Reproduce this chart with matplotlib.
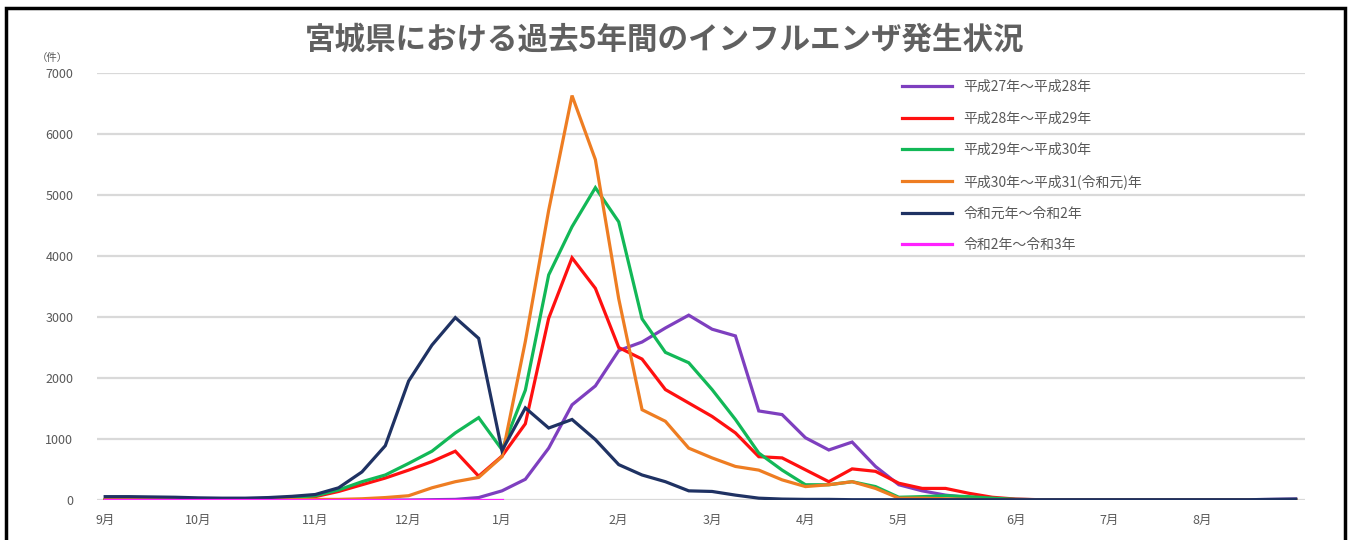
import numpy as np
import matplotlib
matplotlib.use("Agg")
import matplotlib.pyplot as plt
from matplotlib.patches import Rectangle

plt.rcParams['font.family'] = ['Noto Sans CJK JP', 'DejaVu Sans']

# 週ごとの報告数（9月第1週から52週）
h27 = [0, 0, 0, 0, 0, 0, 0, 0, 0, 0, 0, 0, 0, 0, 5, 10,
       40, 150, 340, 850, 1560, 1870, 2450, 2590, 2820, 3030, 2800, 2690, 1460, 1400, 1020, 820,
       950, 550, 250, 150, 80, 40, 20, 10, 5, 5, 5, 5, 5, 5, 5, 5, 5, 5, 10, 15]
h28 = [5, 5, 5, 5, 5, 5, 10, 15, 30, 55, 140, 250, 360, 490, 630, 800,
       390, 720, 1250, 2980, 3970, 3470, 2500, 2310, 1810, 1590, 1370, 1100, 710, 690, 495, 300,
       510, 470, 275, 190, 190, 110, 45, 15, 5, 5, 5, 5, 5, 5, 5, 5, 5, 5, 5, 5]
h29 = [5, 5, 5, 5, 5, 5, 10, 20, 40, 70, 165, 300, 410, 600, 800, 1100,
       1350, 825, 1800, 3690, 4480, 5120, 4560, 2970, 2420, 2250, 1810, 1320, 770, 490, 250, 250,
       300, 220, 45, 55, 70, 55, 30, 10, 5, 5, 5, 5, 5, 5, 5, 5, 5, 5, 5, 5]
h30 = [5, 5, 5, 5, 5, 5, 5, 5, 5, 10, 10, 20, 40, 70, 200, 300,
       370, 710, 2600, 4750, 6630, 5580, 3300, 1480, 1290, 850, 690, 550, 490, 330, 220, 250,
       300, 190, 30, 30, 20, 10, 5, 5, 5, 5, 5, 5, 5, 5, 5, 5, 5, 5, 5, 5]
r1 = [55, 55, 50, 45, 35, 30, 30, 40, 60, 90, 200, 460, 890, 1950, 2540, 2990,
      2650, 810, 1510, 1180, 1320, 990, 580, 410, 300, 150, 140, 80, 30, 15, 10, 10,
      5, 5, 5, 5, 5, 5, 5, 5, 5, 5, 5, 5, 5, 5, 5, 5, 5, 5, 10, 15]
r2 = [2, 2, 2, 2, 2, 2, 2, 2, 2, 2, 2, 2, 2, 2, 2, 2, 2, 2]

series = [h27, h28, h29, h30, r1, r2]
labels = ["平成27年～平成28年", "平成28年～平成29年", "平成29年～平成30年",
          "平成30年～平成31(令和元)年", "令和元年～令和2年", "令和2年～令和3年"]
colors = ["#7E3FBF", "#FF1010", "#12B857", "#EE7D22", "#1F3263", "#FF22FF"]

month_pos = [0, 4, 9, 13, 17, 22, 26, 30, 34, 39, 43, 47]
month_labels = ["9月", "10月", "11月", "12月", "1月", "2月", "3月", "4月", "5月", "6月", "7月", "8月"]

W, H = 1351, 540
fig = plt.figure(figsize=(W / 100, H / 100), dpi=100)
ax = fig.add_axes([97 / W, 1 - 500 / H, 1208 / W, 427 / H])

for vals, lab, c in zip(series, labels, colors):
    ax.plot(range(len(vals)), vals, color=c, lw=2.3, label=lab, solid_joinstyle='miter')

ax.set_xlim(-0.35, 51.4)
ax.set_ylim(0, 7000)
ax.set_yticks(range(0, 7001, 1000))
ax.set_yticklabels([str(v) for v in range(0, 7001, 1000)], fontsize=9, color="#595959")
ax.set_xticks(month_pos)
ax.set_xticklabels(month_labels, fontsize=9, color="#595959")
ax.tick_params(axis='y', length=0, pad=17)
ax.tick_params(axis='x', length=0, pad=10)
ax.grid(axis='y', color="#D9D9D9", lw=1.6)
ax.set_axisbelow(True)
for s in ax.spines.values():
    s.set_visible(False)

fig.text(665 / W, 1 - 40 / H, "宮城県における過去5年間のインフルエンザ発生状況",
         ha='center', va='center', fontsize=22, fontweight='bold', color="#606060")
fig.text(52 / W, 1 - 58 / H, "（件）", ha='center', va='center', fontsize=7.5, color="#595959")

fig.legend(loc='upper left', bbox_to_anchor=(902 / W, 1 - 80 / H), frameon=False,
           fontsize=10, handlelength=3.6, labelspacing=1.26, borderpad=0,
           borderaxespad=0, labelcolor="#595959")

fig.add_artist(Rectangle((6 / W, -0.1), (1345 - 6) / W, 1 - 8 / H + 0.1,
                         transform=fig.transFigure, fill=False, lw=2.5,
                         edgecolor="black", clip_on=False))

fig.savefig("out.png", dpi=100)
